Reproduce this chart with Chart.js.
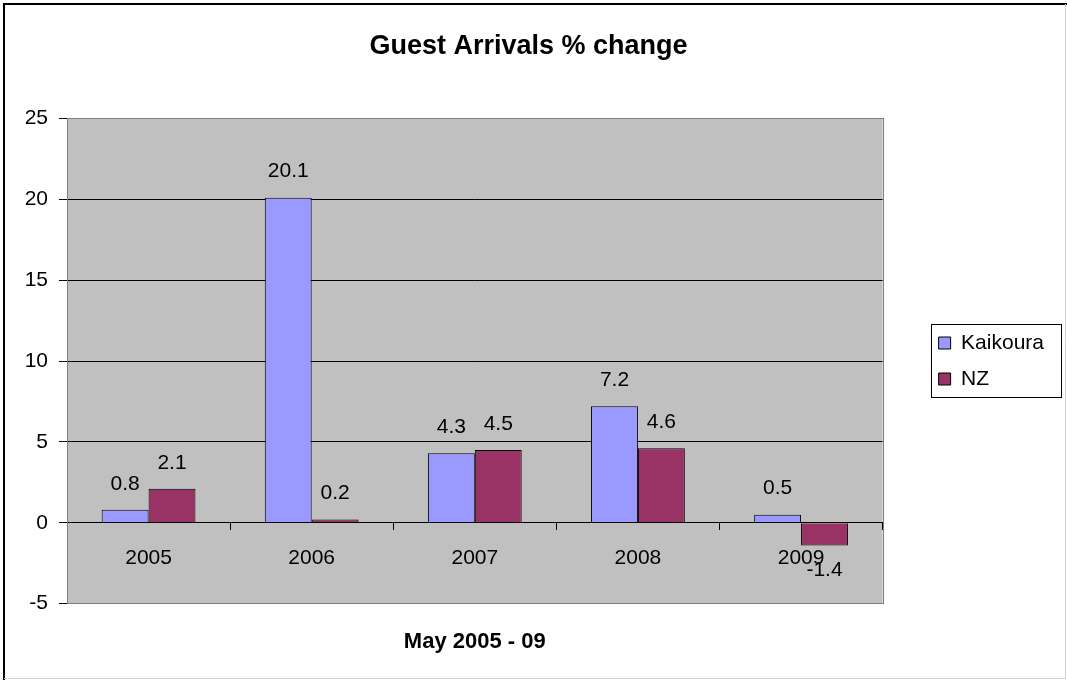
<!DOCTYPE html>
<html lang="en">
  <head>
    <meta charset="UTF-8" />
    <title>Guest Arrivals % change</title>
    <script src="https://cdn.jsdelivr.net/npm/chart.js"></script>
    <style>
      html, body {
        margin: 0;
        padding: 0;
        background: #ffffff;
      }
      .wrap {
        width: 1067px;
        height: 680px;
      }
    </style>
  </head>
  <body>
    <div class="wrap">
      <canvas id="chart" width="1067" height="680"></canvas>
    </div>

    <script>
      const years = ["2005", "2006", "2007", "2008", "2009"];
      const kaikoura = [0.8, 20.1, 4.3, 7.2, 0.5];
      const nz = [2.1, 0.2, 4.5, 4.6, -1.4];
      const yTicks = [-5, 0, 5, 10, 15, 20, 25];

      const FONT = "'Liberation Sans', Arial, sans-serif";

      // frame, grey plot area
      const backdrop = {
        id: "backdrop",
        beforeDraw(chart) {
          const ctx = chart.ctx;
          const a = chart.chartArea;
          ctx.save();
          ctx.fillStyle = "#ffffff";
          ctx.fillRect(0, 0, chart.width, chart.height);
          ctx.fillStyle = "#c0c0c0";
          ctx.fillRect(a.left, a.top, a.right - a.left, a.bottom - a.top);
          ctx.strokeStyle = "#000000";
          ctx.lineWidth = 2;
          ctx.beginPath();
          ctx.moveTo(4, chart.height);
          ctx.lineTo(4, 4);
          ctx.lineTo(chart.width, 4);
          ctx.stroke();
          ctx.strokeStyle = "#d0d0d0";
          ctx.lineWidth = 1;
          ctx.beginPath();
          ctx.moveTo(chart.width - 1.5, 4);
          ctx.lineTo(chart.width - 1.5, chart.height - 1.5);
          ctx.lineTo(4, chart.height - 1.5);
          ctx.stroke();
          ctx.restore();
        },
        beforeDatasetsDraw(chart) {
          const ctx = chart.ctx;
          const a = chart.chartArea;
          ctx.save();
          ctx.strokeStyle = "#808080";
          ctx.lineWidth = 1;
          ctx.strokeRect(
            Math.round(a.left) + 0.5,
            Math.round(a.top) + 0.5,
            Math.round(a.right - a.left),
            Math.round(a.bottom - a.top)
          );
          ctx.restore();
        },
      };

      // values above / below the bars
      const barValues = {
        id: "barValues",
        afterDatasetsDraw(chart) {
          const ctx = chart.ctx;
          ctx.save();
          ctx.font = "21px " + FONT;
          ctx.fillStyle = "#000000";
          ctx.textAlign = "center";
          ctx.textBaseline = "middle";
          chart.data.datasets.forEach((ds, i) => {
            chart.getDatasetMeta(i).data.forEach((bar, j) => {
              const v = ds.data[j];
              const y = v >= 0 ? bar.y - 26 : bar.y + 25;
              ctx.fillText(v.toFixed(1), bar.x, y);
            });
          });
          ctx.restore();
        },
      };

      // box round the legend
      const legendBox = {
        id: "legendBox",
        afterDraw(chart) {
          const hb = chart.legend.legendHitBoxes;
          if (!hb || !hb.length) return;
          const ctx = chart.ctx;
          const x = Math.round(hb[0].left) - 8;
          const top = Math.round(hb[0].top) - 9;
          const last = hb[hb.length - 1];
          const bottom = Math.round(last.top + last.height) + 7;
          ctx.save();
          ctx.strokeStyle = "#000000";
          ctx.lineWidth = 1;
          ctx.strokeRect(x + 0.5, top + 0.5, 130, bottom - top);
          ctx.restore();
        },
      };

      new Chart(document.getElementById("chart"), {
        type: "bar",
        data: {
          labels: years,
          datasets: [
            {
              label: "Kaikoura",
              data: kaikoura,
              backgroundColor: "#9999ff",
              borderColor: "#000000",
              borderWidth: 1,
              xAxisID: "x",
            },
            {
              label: "NZ",
              data: nz,
              backgroundColor: "#993366",
              borderColor: "#000000",
              borderWidth: 1,
              xAxisID: "x",
            },
          ],
        },
        options: {
          responsive: false,
          animation: false,
          categoryPercentage: 0.575,
          barPercentage: 1.0,
          layout: {
            padding: { left: 3, right: 13, top: 0, bottom: 25 },
          },
          plugins: {
            title: {
              display: true,
              text: "Guest Arrivals % change",
              color: "#000000",
              font: { family: FONT, size: 27, weight: "bold" },
              padding: { top: 30, bottom: 56 },
            },
            legend: {
              position: "right",
              fullSize: false,
              labels: {
                color: "#000000",
                font: { family: FONT, size: 21 },
                boxWidth: 12,
                boxHeight: 12,
                padding: 15,
              },
            },
            tooltip: { enabled: false },
          },
          scales: {
            x: {
              type: "category",
              position: { y: 0 },
              grid: {
                display: true,
                drawOnChartArea: false,
                drawTicks: true,
                tickLength: 7,
                tickColor: "#000000",
                offset: true,
              },
              border: { display: true, color: "#000000", width: 1 },
              ticks: {
                color: "#000000",
                font: { family: FONT, size: 21 },
                padding: 16,
                maxRotation: 0,
              },
            },
            x2: {
              type: "category",
              position: "bottom",
              labels: years,
              grid: { display: false, drawTicks: false },
              border: { display: false },
              ticks: { display: false },
              title: {
                display: true,
                text: "May 2005 - 09",
                color: "#000000",
                font: { family: FONT, size: 22, weight: "bold" },
                padding: { top: 25, bottom: 0 },
              },
            },
            y: {
              min: -5,
              max: 25,
              afterFit(scale) {
                scale.width = 64;
              },
              afterBuildTicks(scale) {
                scale.ticks = yTicks.map((v) => ({ value: v }));
              },
              grid: {
                color: "#000000",
                tickColor: "#000000",
                tickLength: 8,
                lineWidth: 1,
              },
              border: { display: false },
              ticks: {
                color: "#000000",
                font: { family: FONT, size: 21 },
                padding: 11,
              },
            },
            yGap: {
              position: "right",
              display: true,
              min: -5,
              max: 25,
              afterFit(scale) {
                scale.width = 41;
              },
              grid: { display: false, drawTicks: false },
              border: { display: false },
              ticks: { display: false },
            },
          },
        },
        plugins: [backdrop, barValues, legendBox],
      });
    </script>
  </body>
</html>
